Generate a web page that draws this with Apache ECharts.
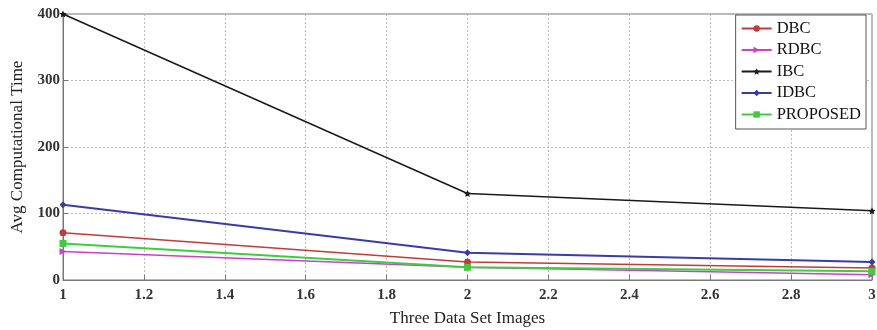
<!DOCTYPE html>
<html>
<head>
<meta charset="utf-8">
<script src="https://cdn.jsdelivr.net/npm/echarts@6/dist/echarts.min.js"></script>
<style>
html, body { margin: 0; padding: 0; background: #fff; }
#chart { width: 877px; height: 330px; }
</style>
</head>
<body>
<div id="chart"></div>
<script>
const xValues = [1, 2, 3];
const dbc = [71, 27, 18];
const rdbc = [43, 19, 8];
const ibc = [400, 130, 104];
const idbc = [113, 41, 27];
const proposed = [55, 19, 13];

const seriesDefs = [
    { name: 'DBC', data: dbc, color: '#c43a3a', symbol: 'circle' },
    { name: 'RDBC', data: rdbc, color: '#cc3fcc', symbol: 'triangle', rotate: -90 },
    { name: 'IBC', data: ibc, color: '#1a1a1a', symbol: 'path://M0,-10 L2.9,-4 L9.5,-3.1 L4.8,1.5 L5.9,8.1 L0,5 L-5.9,8.1 L-4.8,1.5 L-9.5,-3.1 L-2.9,-4 Z' },
    { name: 'IDBC', data: idbc, color: '#3b3ba8', symbol: 'diamond' },
    { name: 'PROPOSED', data: proposed, color: '#3fcc3f', symbol: 'rect' }
];

const font = 'Liberation Serif';
let myChart = echarts.init(document.getElementById('chart'));
let option = {
    animation: false,
    backgroundColor: '#fff',
    grid: {
        left: 63,
        right: 5,
        top: 14,
        bottom: 50,
        outerBoundsMode: 'none',
        containLabel: false,
        show: true,
        borderColor: '#777',
        borderWidth: 1
    },
    legend: {
        orient: 'vertical',
        right: 11,
        top: 15,
        itemWidth: 30,
        itemHeight: 8,
        itemGap: 4.5,
        padding: [5, 5, 6, 5],
        borderColor: '#555',
        borderWidth: 1,
        backgroundColor: '#fff',
        textStyle: { fontFamily: font, fontSize: 16.5, color: '#111' },
        data: seriesDefs.map(s => s.name)
    },
    xAxis: {
        type: 'value',
        min: 1,
        max: 3,
        interval: 0.2,
        name: 'Three Data Set Images',
        nameLocation: 'middle',
        nameGap: 30,
        nameTextStyle: { fontFamily: font, fontSize: 17, color: '#222' },
        axisLine: { lineStyle: { color: '#777' } },
        axisTick: { inside: true, length: 5, lineStyle: { color: '#777' } },
        axisLabel: {
            fontFamily: font, fontSize: 15, fontWeight: 'bold', color: '#333', margin: 8,
            formatter: v => String(Math.round(v * 10) / 10)
        },
        splitLine: { show: true, lineStyle: { color: '#bbb', type: [2, 2] } }
    },
    yAxis: {
        type: 'value',
        min: 0,
        max: 400,
        interval: 100,
        name: 'Avg Computational Time',
        nameLocation: 'middle',
        nameGap: 37,
        nameTextStyle: { fontFamily: font, fontSize: 17, color: '#222' },
        axisLine: { show: true, lineStyle: { color: '#777' } },
        axisTick: { show: true, inside: true, length: 5, lineStyle: { color: '#777' } },
        axisLabel: { fontFamily: font, fontSize: 15, fontWeight: 'bold', color: '#333', margin: 3 },
        splitLine: { show: true, lineStyle: { color: '#bbb', type: [2, 2] } }
    },
    series: seriesDefs.map(s => ({
        name: s.name,
        type: 'line',
        data: s.data.map((v, i) => [xValues[i], v]),
        symbol: s.symbol,
        symbolRotate: s.rotate || 0,
        symbolSize: 7,
        color: s.color,
        lineStyle: { width: s.name === 'PROPOSED' || s.name === 'IDBC' ? 2 : 1.5 },
        itemStyle: { color: s.color }
    }))
};
myChart.setOption(option);
</script>
</body>
</html>
